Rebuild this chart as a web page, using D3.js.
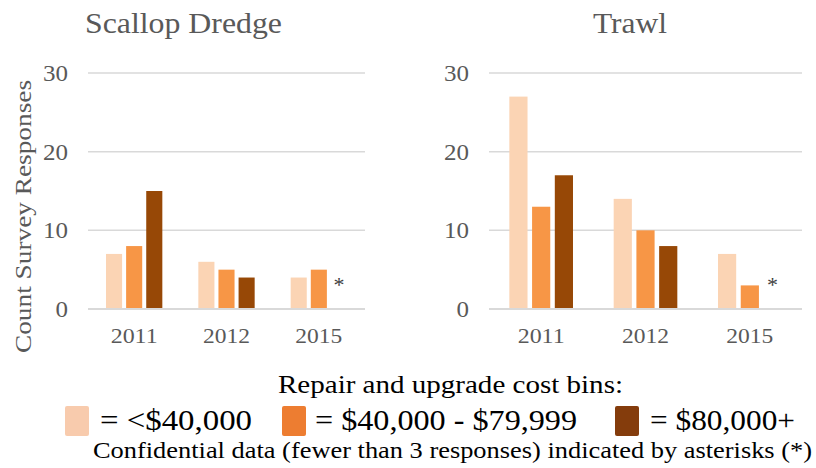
<!DOCTYPE html>
<html>
<head>
<meta charset="utf-8">
<script src="https://cdn.jsdelivr.net/npm/d3@7"></script>
<style>
  body { margin: 0; background: #fff; }
  svg { display: block; }
  text { font-family: 'Liberation Serif', 'DejaVu Serif', serif; }
</style>
</head>
<body>
<svg id="chart" width="816" height="468"></svg>
<script>
// data
let years = ["2011", "2012", "2015"];
let bins = ["= <$40,000", "= $40,000 - $79,999", "= $80,000+"];
// null = confidential (shown with an asterisk)
let scallopValues = [[7, 8, 15], [6, 5, 4], [4, 5, null]];
let trawlValues = [[27, 13, 17], [14, 10, 8], [7, 3, null]];
let yTicks = [0, 10, 20, 30];

let barColors = ["#fbd4b4", "#f79646", "#974806"];
let legendColors = ["#f8cbad", "#ed7d31", "#843c0c"];

let FONT = "'Liberation Serif', 'DejaVu Serif', serif";

let svg = d3.select("#chart").attr("font-family", FONT);

let y = d3.scaleLinear().domain([0, 30]).range([309, 73]);

// stretch text a little to match the wide-ish rendering of the original
function fit(sel, w) {
    return sel.attr("textLength", w).attr("lengthAdjust", "spacingAndGlyphs");
}

function panel(title, values, x0, x1, titleX, titleW) {
    let g = svg.append("g");

    // gridlines
    g.selectAll(".grid")
        .data(yTicks)
        .enter()
        .append("line")
        .attr("x1", x0)
        .attr("x2", x1)
        .attr("y1", d => y(d))
        .attr("y2", d => y(d))
        .attr("stroke", "#d9d9d9")
        .attr("stroke-width", d => d === 0 ? 2.2 : 1.5);

    // tick labels
    g.selectAll(".tick")
        .data(yTicks)
        .enter()
        .append("text")
        .attr("x", x0 - 20)
        .attr("y", d => y(d) + 8)
        .attr("text-anchor", "end")
        .attr("font-size", 23)
        .attr("fill", "#595959")
        .text(d => d)
        .attr("textLength", d => String(d).length * 12.5)
        .attr("lengthAdjust", "spacingAndGlyphs");

    let xYear = d3.scaleBand().domain(years).range([x0, x1]);
    let bw = xYear.bandwidth();
    let xBin = d3.scaleBand().domain(d3.range(3))
        .range([bw * 0.195, bw * 0.805]).paddingInner(0.2);

    let groups = g.selectAll(".year")
        .data(years)
        .enter()
        .append("g")
        .attr("transform", d => `translate(${xYear(d)},0)`);

    groups.selectAll("rect")
        .data((d, i) => values[i].map((v, j) => ({ v: v, j: j })).filter(d => d.v !== null))
        .enter()
        .append("rect")
        .attr("x", d => xBin(d.j))
        .attr("width", xBin.bandwidth())
        .attr("y", d => y(d.v))
        .attr("height", d => y(0) - 1 - y(d.v))
        .attr("fill", d => barColors[d.j]);

    groups.selectAll(".star")
        .data((d, i) => values[i].map((v, j) => ({ v: v, j: j })).filter(d => d.v === null))
        .enter()
        .append("text")
        .attr("x", d => xBin(d.j) + xBin.bandwidth() / 2)
        .attr("y", y(0) - 17)
        .attr("text-anchor", "middle")
        .attr("font-size", 22)
        .attr("fill", "#404040")
        .text("*");

    fit(groups.append("text")
        .attr("x", bw / 2)
        .attr("y", 343)
        .attr("text-anchor", "middle")
        .attr("font-size", 22)
        .attr("fill", "#595959")
        .text(d => d), 47);

    fit(g.append("text")
        .attr("x", titleX)
        .attr("y", 33)
        .attr("text-anchor", "middle")
        .attr("font-size", 30)
        .attr("fill", "#595959")
        .text(title), titleW);
}

panel("Scallop Dredge", scallopValues, 88, 365, 183.5, 197);
panel("Trawl", trawlValues, 489, 802, 630, 74);

// y axis title
fit(svg.append("text")
    .attr("transform", "translate(31,216.5) rotate(-90)")
    .attr("text-anchor", "middle")
    .attr("font-size", 24)
    .attr("fill", "#595959")
    .text("Count Survey Responses"), 273);

// legend
fit(svg.append("text")
    .attr("x", 450.5)
    .attr("y", 393)
    .attr("text-anchor", "middle")
    .attr("font-size", 25)
    .attr("fill", "#000")
    .text("Repair and upgrade cost bins:"), 345);

let legendX = [65, 282, 615];
let legendTextX = [35, 33, 35];
let legendTextW = [152, 262, 145];
let legend = svg.selectAll(".legend")
    .data(bins)
    .enter()
    .append("g")
    .attr("transform", (d, i) => `translate(${legendX[i]},406)`);

legend.append("rect")
    .attr("width", 24)
    .attr("height", 30)
    .attr("rx", 2)
    .attr("fill", (d, i) => legendColors[i]);

legend.append("text")
    .attr("x", (d, i) => legendTextX[i])
    .attr("y", 24)
    .attr("font-size", 30)
    .attr("fill", "#000")
    .text(d => d)
    .attr("textLength", (d, i) => legendTextW[i])
    .attr("lengthAdjust", "spacingAndGlyphs");

fit(svg.append("text")
    .attr("x", 93)
    .attr("y", 458)
    .attr("font-size", 24)
    .attr("fill", "#000")
    .text("Confidential data (fewer than 3 responses) indicated by asterisks (*)"), 719);
</script>
</body>
</html>
